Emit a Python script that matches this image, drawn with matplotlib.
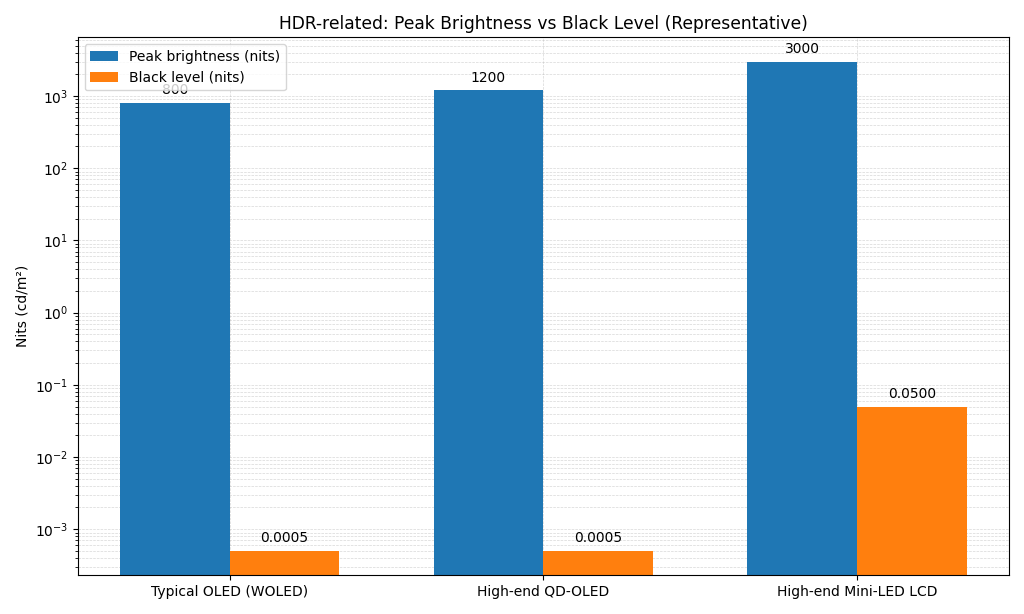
import numpy as np
import matplotlib
matplotlib.use("Agg")
import matplotlib.pyplot as plt

# Valores representativos
displays = ["Typical OLED (WOLED)", "High-end QD-OLED", "High-end Mini-LED LCD"]
peak_nits = [800, 1200, 3000]
black_nits = [0.0005, 0.0005, 0.05]

x = np.arange(len(displays))
width = 0.35

fig, ax = plt.subplots(figsize=(10.24, 6.14), dpi=100)
b1 = ax.bar(x - width / 2, peak_nits, width, label="Peak brightness (nits)")
b2 = ax.bar(x + width / 2, black_nits, width, label="Black level (nits)")

ax.set_yscale("log")
ax.set_ylim(2.3e-4, 6500)
ax.set_xticks(x)
ax.set_xticklabels(displays)
ax.set_ylabel("Nits (cd/m²)")
ax.set_title("HDR-related: Peak Brightness vs Black Level (Representative)", fontsize=12.3)
ax.grid(True, which="both", linestyle="--", linewidth=0.5, alpha=0.5)
ax.set_axisbelow(True)

# Etiquetas encima de las barras
for rect, v in zip(b1, peak_nits):
    ax.annotate(f"{v:.0f}", (rect.get_x() + rect.get_width() / 2, v),
                xytext=(0, 4), textcoords="offset points", ha="center", va="bottom")
for rect, v in zip(b2, black_nits):
    ax.annotate(f"{v:.4f}", (rect.get_x() + rect.get_width() / 2, v),
                xytext=(0, 4), textcoords="offset points", ha="center", va="bottom")

ax.legend(loc="upper left")
fig.tight_layout()
fig.savefig("out.png")
